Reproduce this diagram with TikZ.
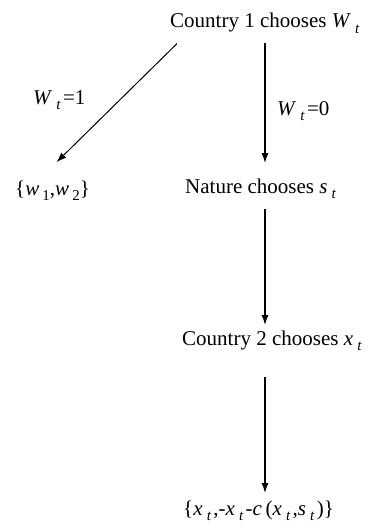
\documentclass[tikz,border=0pt]{standalone}
\usepackage{fontspec}
\setmainfont{Liberation Serif}
\usetikzlibrary{arrows.meta}
\newcommand{\vi}[1]{\textit{#1}}
\newcommand{\sbt}[1]{\hspace{0.2em}\raisebox{-0.25em}{\fontsize{15}{15}\selectfont\textit{#1}}\hspace{0.1em}}
\newcommand{\sbn}[1]{\hspace{0.15em}\raisebox{-0.25em}{\fontsize{15}{15}\selectfont #1}}
\begin{document}
\begin{tikzpicture}[x=1pt,y=1pt,
  lbl/.style={anchor=base west,inner sep=0pt,font=\fontsize{21}{25}\selectfont},
  arr/.style={-{Latex[length=10pt,width=7pt]},line width=1.3pt},
  darr/.style={-{Latex[length=10pt,width=7pt]},line width=1pt}]
\useasboundingbox (0,0) rectangle (373,-527);
\coordinate (ax) at (265,0);
\node[lbl] (c1) at (170,-28) {Country 1 chooses \vi{W}\sbt{t}};
\node[lbl] (w0) at (277,-115) {\vi{W}\sbt{t}=0};
\node[lbl] (w1) at (33,-104) {\vi{W}\sbt{t}=1};
\node[lbl] (w12) at (15,-195) {\{\vi{w}\sbn{1},\vi{w}\sbn{2}\}};
\node[lbl] (nat) at (185,-193) {Nature chooses \vi{s}\sbt{t}};
\node[lbl] (c2) at (182,-345) {Country 2 chooses \vi{x}\sbt{t}};
\node[lbl] (fin) at (183,-515) {\{\vi{x}\sbt{t},-\vi{x}\sbt{t}-\vi{c}\,(\vi{x}\sbt{t},\vi{s}\sbt{t})\}};
\draw[arr] (c1.south -| ax) ++(0,-9) coordinate (a1s) -- (a1s |- 0,-163);
\draw[darr] ([xshift=7pt,yshift=-10pt]c1.south west) -- ([xshift=4pt,yshift=18pt]w12.north);
\draw[arr] (nat.south -| ax) ++(0,-10) -- (265,-325);
\draw[arr] (c2.south -| ax) ++(0,-26) -- (265,-493);
\end{tikzpicture}
\end{document}
